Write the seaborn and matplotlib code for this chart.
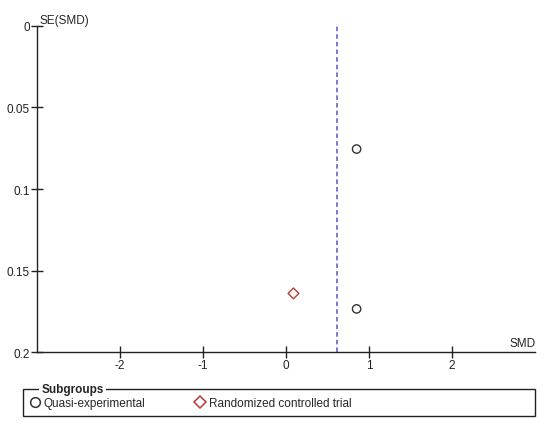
import matplotlib
matplotlib.use("Agg")
import matplotlib.pyplot as plt
import matplotlib.patches as mpatches
from matplotlib.lines import Line2D
import pandas as pd
import seaborn as sns

# funnel plot data
smd      = [0.85, 0.85, 0.09]
se_smd   = [0.0755, 0.1735, 0.164]
subgroup = ["Quasi-experimental", "Quasi-experimental", "Randomized controlled trial"]
pooled_smd = 0.61

x_ticks = [-2, -1, 0, 1, 2]
y_ticks = [0, 0.05, 0.1, 0.15, 0.2]
y_labels = ["0", "0.05", "0.1", "0.15", "0.2"]

MARKERS = {"Quasi-experimental": "o", "Randomized controlled trial": "D"}
COLORS  = {"Quasi-experimental": "#333333", "Randomized controlled trial": "#b83a3a"}

sns.set_style("white")
plt.rcParams["font.family"] = ["Liberation Sans", "DejaVu Sans"]

df = pd.DataFrame({"smd": smd, "se": se_smd, "subgroup": subgroup})

fig = plt.figure(figsize=(5.5, 4.27), dpi=100)
ax = fig.add_axes([0.067, 0.173, 0.906, 0.764])

for grp, sub in df.groupby("subgroup"):
    sns.scatterplot(data=sub, x="smd", y="se", ax=ax, marker=MARKERS[grp],
                    s=36 if grp.startswith("Q") else 30, facecolors="none",
                    edgecolor=COLORS[grp], linewidth=1.0, legend=False)

ax.axvline(pooled_smd, color="#5555cc", linestyle=(0, (3, 2)), linewidth=1.1)

ax.set_xlim(-3, 3)
ax.set_ylim(0.2, 0)
ax.set_xticks(x_ticks)
ax.set_xticklabels([str(t) for t in x_ticks])
ax.set_yticks(y_ticks)
ax.set_yticklabels(y_labels)
ax.tick_params(bottom=True, left=True, direction="inout", length=8, width=1,
               labelsize=8.5, colors="#222222", pad=1)
ax.set_xlabel("")
ax.set_ylabel("")
for side in ["top", "right"]:
    ax.spines[side].set_visible(False)
for side in ["left", "bottom"]:
    ax.spines[side].set_color("#222222")
    ax.spines[side].set_linewidth(1)

ax.text(0.005, 1.0, "SE(SMD)", transform=ax.transAxes, fontsize=8.5, ha="left", va="bottom")
ax.text(1.0, 0.01, "SMD", transform=ax.transAxes, fontsize=8.5, ha="right", va="bottom")

# fieldset-style legend box
box = mpatches.Rectangle((0.042, 0.023), 0.931, 0.064, transform=fig.transFigure,
                         fill=False, edgecolor="#222222", linewidth=1)
fig.patches.append(box)
fig.text(0.075, 0.087, "Subgroups", fontsize=8.5, fontweight="bold", va="center",
         ha="left", bbox=dict(facecolor="white", edgecolor="none", pad=1.5))

handles = [Line2D([], [], linestyle="none", marker=MARKERS[g], markersize=7 if g.startswith("Q") else 6.5,
                  markerfacecolor="none", markeredgecolor=COLORS[g], markeredgewidth=1.1)
           for g in MARKERS]
fig.legend(handles, list(MARKERS), loc="center left", bbox_to_anchor=(0.042, 0.054),
           ncol=2, frameon=False, fontsize=8.5, handletextpad=0.15, columnspacing=4.0,
           handlelength=1.2, borderaxespad=0)

fig.savefig("out.png", dpi=100)
